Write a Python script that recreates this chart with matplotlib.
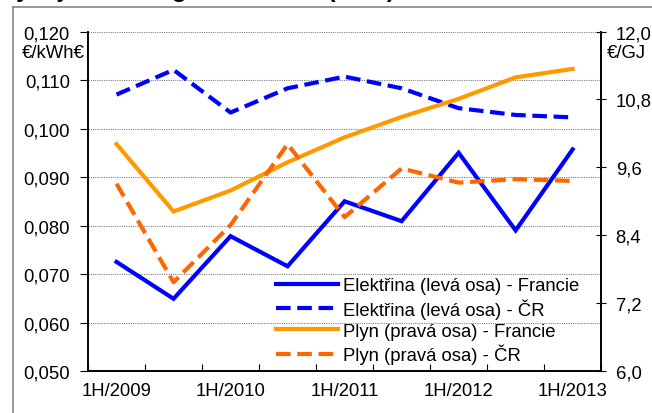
import matplotlib.pyplot as plt
from matplotlib.lines import Line2D
from matplotlib.ticker import FuncFormatter, FixedLocator
import numpy as np

plt.rcParams['font.family'] = ['Liberation Sans', 'DejaVu Sans']

# data
periods = ['1H/2009', '2H/2009', '1H/2010', '2H/2010', '1H/2011',
           '2H/2011', '1H/2012', '2H/2012', '1H/2013']
el_fr = [0.0725, 0.0649, 0.0778, 0.0716, 0.0850, 0.0809, 0.0950, 0.0790, 0.0957]
el_cr = [0.1070, 0.1121, 0.1033, 0.1083, 0.1107, 0.1083, 0.1042, 0.1028, 0.1023]
gas_fr = [10.01, 8.82, 9.19, 9.69, 10.13, 10.49, 10.81, 11.19, 11.34]
gas_cr = [9.31, 7.57, 8.58, 10.01, 8.72, 9.58, 9.33, 9.39, 9.36]

labels = ['Elektřina (levá osa) - Francie', 'Elektřina (levá osa) - ČR',
          'Plyn (pravá osa) - Francie', 'Plyn (pravá osa) - ČR']
title = 'Vývoj cen energií ve Francii (EUR)'

BLUE = '#0000FF'
ORANGE = '#FF9900'
DARK_ORANGE = '#FF6600'
FS = 13.3

fig = plt.figure(figsize=(6.52, 4.14), dpi=100)
ax = fig.add_axes([0.135, 0.1014, 0.787, 0.820])
ax2 = ax.twinx()

x = np.arange(len(periods))
dash = (3.5, 1.6)

l1, = ax.plot(x, el_fr, color=BLUE, lw=3, solid_joinstyle='miter')
l2, = ax.plot(x, el_cr, color=BLUE, lw=3, dashes=dash)
l3, = ax2.plot(x, gas_fr, color=ORANGE, lw=3, solid_joinstyle='miter')
l4, = ax2.plot(x, gas_cr, color=DARK_ORANGE, lw=3, dashes=dash)

ax.set_xlim(-0.5, len(periods) - 0.5)
ax.set_ylim(0.05, 0.12)
ax.set_yticks(np.arange(0.05, 0.1201, 0.01))
ax.yaxis.set_major_formatter(FuncFormatter(lambda v, p: f'{v:.3f}'.replace('.', ',')))
ax2.set_ylim(6.0, 12.0)
ax2.set_yticks(np.arange(6.0, 12.01, 1.2))
ax2.yaxis.set_major_formatter(FuncFormatter(lambda v, p: f'{v:.1f}'.replace('.', ',')))

ax.set_xticks(x[::2])
ax.set_xticklabels(periods[::2])
ax.xaxis.set_minor_locator(FixedLocator(np.arange(-0.5, len(periods), 1.0)))
ax.tick_params(axis='x', which='major', length=0, pad=8, labelsize=FS)
ax.tick_params(axis='x', which='minor', direction='in', length=5, width=0.8)
ax.tick_params(axis='y', direction='out', length=6, width=0.8, pad=7, labelsize=FS)
ax2.tick_params(axis='y', direction='inout', length=7, width=0.8, pad=7, labelsize=FS)

ax.grid(axis='y', color='#808080', lw=0.8, linestyle=(0, (1, 1)))
ax.set_axisbelow(True)
for a in (ax, ax2):
    a.spines['top'].set_visible(False)
    for s in ('left', 'right', 'bottom'):
        a.spines[s].set_linewidth(1.2)

fig.text(22 / 652, 1 - 53 / 414, '€/kWh€', fontsize=FS, va='center', ha='left')
fig.text(607 / 652, 1 - 53 / 414, '€/GJ', fontsize=FS, va='center', ha='left')

fig.legend([l1, l2, l3, l4], labels, loc='upper left',
           bbox_to_anchor=(276 / 652, 1 - 278 / 414), frameon=False,
           fontsize=FS, handlelength=3.35, handletextpad=0.27,
           labelspacing=0.22, borderpad=0, borderaxespad=0)

# chart border, partly outside the picture
border = '#868686'
fig.add_artist(Line2D([13 / 652, 13 / 652], [0, 1 - 8 / 414], color=border, lw=1.2,
                      transform=fig.transFigure))
fig.add_artist(Line2D([13 / 652, 1], [1 - 8 / 414, 1 - 8 / 414], color=border, lw=1.2,
                      transform=fig.transFigure))
# title cut off at the top, as in the source picture
fig.text(0, 1 + 3 / 414, title, fontsize=17.5, fontweight='bold',
         ha='left', va='baseline')

fig.savefig('out.png', dpi=100)
